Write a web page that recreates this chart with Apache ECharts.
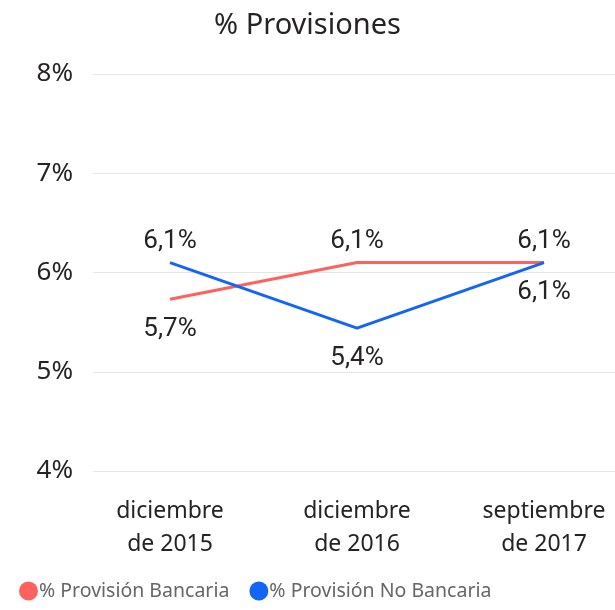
<!DOCTYPE html>
<html>
<head>
<meta charset="utf-8">
<script src="https://cdn.jsdelivr.net/npm/echarts@6/dist/echarts.min.js"></script>
<style>
  html, body { margin: 0; padding: 0; background: #fff; }
  #chart { width: 615px; height: 610px; }
</style>
</head>
<body>
<div id="chart"></div>
<script>
var categories = ['diciembre\nde 2015', 'diciembre\nde 2016', 'septiembre\nde 2017'];
var bancaria = [5.73, 6.1, 6.1];
var noBancaria = [6.1, 5.44, 6.1];
// label side per point: true = above
var bancariaAbove = [false, true, true];
var noBancariaAbove = [true, false, false];

function pct(v) {
    return v.toFixed(1).replace('.', ',') + '%';
}

function withLabels(values, above) {
    return values.map(function(v, i) {
        return {
            value: v,
            label: { position: above[i] ? 'top' : 'bottom', distance: above[i] ? 8 : 17 }
        };
    });
}

var chart = echarts.init(document.getElementById('chart'));
var labelStyle = {
    show: true,
    fontSize: 26,
    color: '#252423',
    fontFamily: 'Roboto',
    formatter: function(p) { return pct(p.value); }
};

var option = {
    animation: false,
    title: {
        text: '% Provisiones',
        left: 'center',
        top: 6,
        textStyle: { fontSize: 29, fontWeight: 'normal', color: '#252423', fontFamily: 'Noto Sans' }
    },
    legend: {
        left: 14,
        bottom: 4,
        icon: 'circle',
        itemWidth: 19,
        itemHeight: 19,
        itemGap: 20,
        textStyle: { fontSize: 19.5, color: '#666', fontFamily: 'Noto Sans', padding: [0, 0, 0, -4] },
        data: ['% Provisión Bancaria', '% Provisión No Bancaria']
    },
    grid: [
        { left: 93, top: 74, right: 0, bottom: 139 },
        { left: 170, top: 74, right: 71, bottom: 139 }
    ],
    xAxis: [
        { gridIndex: 0, type: 'category', data: categories, show: false },
        {
            gridIndex: 1,
            type: 'category',
            data: categories,
            boundaryGap: false,
            axisLine: { show: false },
            axisTick: { show: false },
            axisLabel: { fontSize: 23, lineHeight: 33, color: '#252423', margin: 24, fontFamily: 'Noto Sans' }
        }
    ],
    yAxis: [
        {
            gridIndex: 0,
            type: 'value',
            min: 4,
            max: 8,
            interval: 1,
            axisLine: { show: false },
            axisTick: { show: false },
            axisLabel: { fontSize: 26, color: '#252423', margin: 20, fontFamily: 'Noto Sans',
                formatter: function(v) { return v + '%'; } },
            splitLine: { lineStyle: { color: '#e6e6e6', width: 1 } }
        },
        { gridIndex: 1, type: 'value', min: 4, max: 8, interval: 1, show: false }
    ],
    series: [
        {
            name: '% Provisión Bancaria',
            type: 'line',
            xAxisIndex: 1,
            yAxisIndex: 1,
            data: withLabels(bancaria, bancariaAbove),
            symbol: 'circle',
            symbolSize: 0.1,
            itemStyle: { color: '#fd625e' },
            lineStyle: { width: 3, color: '#fd625e' },
            label: labelStyle
        },
        {
            name: '% Provisión No Bancaria',
            type: 'line',
            xAxisIndex: 1,
            yAxisIndex: 1,
            data: withLabels(noBancaria, noBancariaAbove),
            symbol: 'circle',
            symbolSize: 0.1,
            itemStyle: { color: '#1565f5' },
            lineStyle: { width: 3, color: '#1565f5' },
            label: labelStyle
        }
    ]
};
chart.setOption(option);
</script>
</body>
</html>
